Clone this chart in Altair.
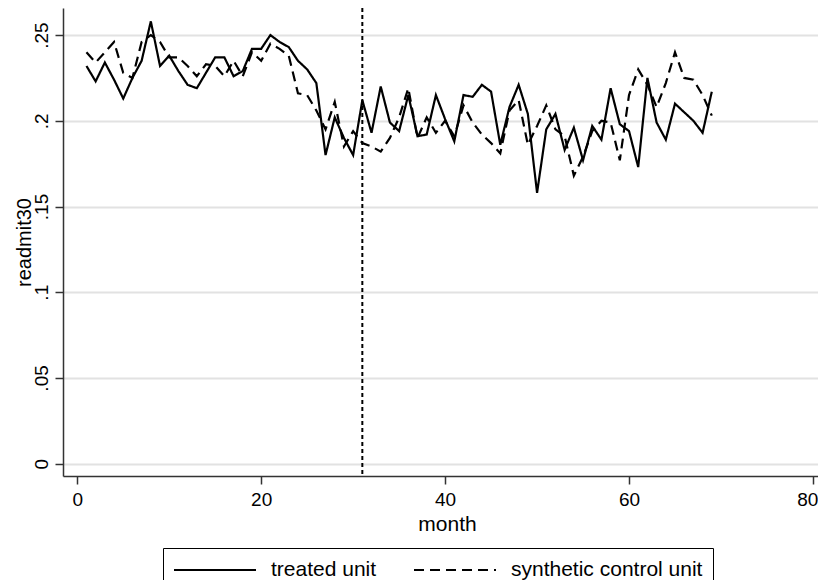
import altair as alt
import pandas as pd

months = list(range(1, 70))

treated = [
    0.232, 0.223, 0.234, 0.224, 0.213, 0.225, 0.235, 0.258, 0.232, 0.238,
    0.229, 0.221, 0.219, 0.228, 0.237, 0.237, 0.226, 0.229, 0.242, 0.242,
    0.250, 0.246, 0.243, 0.235, 0.230, 0.222, 0.180, 0.202, 0.190, 0.180,
    0.212, 0.193, 0.220, 0.199, 0.194, 0.215, 0.191, 0.192, 0.215, 0.201,
    0.188, 0.215, 0.214, 0.221, 0.217, 0.186, 0.208, 0.221, 0.204, 0.158,
    0.195, 0.204, 0.183, 0.196, 0.177, 0.197, 0.189, 0.219, 0.198, 0.194,
    0.173, 0.225, 0.199, 0.189, 0.210, 0.205, 0.200, 0.193, 0.217,
]

synthetic = [
    0.240, 0.234, 0.240, 0.246, 0.228, 0.225, 0.246, 0.250, 0.246, 0.237,
    0.237, 0.232, 0.226, 0.233, 0.232, 0.226, 0.235, 0.226, 0.240, 0.235,
    0.245, 0.242, 0.238, 0.216, 0.215, 0.206, 0.195, 0.211, 0.185, 0.194,
    0.187, 0.185, 0.182, 0.190, 0.202, 0.219, 0.190, 0.202, 0.193, 0.200,
    0.191, 0.209, 0.199, 0.192, 0.187, 0.181, 0.206, 0.212, 0.186, 0.197,
    0.209, 0.195, 0.191, 0.168, 0.179, 0.194, 0.200, 0.199, 0.177, 0.215,
    0.230, 0.221, 0.208, 0.222, 0.240, 0.225, 0.224, 0.215, 0.203,
]

series_names = ["treated unit", "synthetic control unit"]
treatment_month = [31]

df = pd.concat([
    pd.DataFrame({"month": months, "readmit30": treated, "unit": series_names[0]}),
    pd.DataFrame({"month": months, "readmit30": synthetic, "unit": series_names[1]}),
])
rule_df = pd.DataFrame({"month": treatment_month})

FONT = "Liberation Sans"

x = alt.X(
    "month:Q",
    title="month",
    scale=alt.Scale(domain=[-1.55, 80.55], nice=False, zero=False),
    axis=alt.Axis(values=[0, 20, 40, 60, 80], grid=False, tickSize=8,
                  labelPadding=6, labelFontSize=19, titleFontSize=21,
                  titlePadding=4, titleX=384, labelFlush=6, labelFlushOffset=5),
)

# pad the last legend label so the box reaches further right, as in the original
legend_label = ("datum.label == '" + series_names[1]
                + "' ? datum.label + '\u00a0\u00a0\u00a0\u00a0' : datum.label")

lines = alt.Chart(df).mark_line(color="black", strokeWidth=2.2).encode(
    x=x,
    y=alt.Y(
        "readmit30:Q",
        title="readmit30",
        scale=alt.Scale(domain=[-0.0072, 0.2658], nice=False, zero=False),
        axis=alt.Axis(
            values=[0, 0.05, 0.1, 0.15, 0.2, 0.25],
            labelExpr="datum.value == 0 ? '0' : slice(format(datum.value, '.2~f'), 1)",
            labelAngle=270, labelAlign="center", labelBaseline="alphabetic",
            tickSize=8, labelPadding=8, labelFontSize=19,
            titleAngle=270, titleX=-33, titleY=234, titleAlign="center",
            titleBaseline="alphabetic", titleFontSize=20,
            grid=True, gridColor="#e2e2e2", gridWidth=2,
        ),
    ),
    strokeDash=alt.StrokeDash(
        "unit:N",
        scale=alt.Scale(domain=series_names, range=[[1, 0], [10, 6]]),
        legend=alt.Legend(
            title=None, orient="none", legendX=100, legendY=540,
            direction="horizontal", symbolType="stroke", symbolSize=6724,
            clipHeight=24, symbolStrokeWidth=2, symbolStrokeColor="black",
            labelOffset=14, columnPadding=36, labelFontSize=21, padding=10,
            labelLimit=400, labelExpr=legend_label, strokeColor="black",
            labelFont=FONT, labelColor="black",
        ),
    ),
)

vline = alt.Chart(rule_df).mark_rule(
    color="black", strokeWidth=2, strokeDash=[4, 3]
).encode(x=alt.X("month:Q"))

chart = (
    alt.layer(lines, vline)
    .properties(
        width=755, height=468,
        autosize=alt.AutoSizeParams(type="none"),
        padding={"left": 55, "top": 0, "right": 0, "bottom": 104},
        background="white",
    )
    .configure_view(stroke=None)
    .configure_axis(
        labelFont=FONT, titleFont=FONT, labelColor="black", titleColor="black",
        titleFontWeight="normal", domainColor="#333333", domainWidth=1.5,
        tickColor="#333333", tickWidth=1.5,
    )
)

chart.save("out.html", embed_options={"renderer": "svg", "actions": False})
